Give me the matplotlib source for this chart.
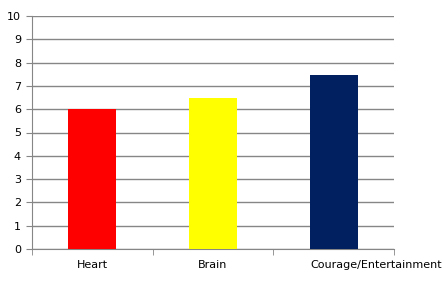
import matplotlib
matplotlib.use("Agg")
import matplotlib.pyplot as plt
from matplotlib.transforms import ScaledTranslation

# Chart data
categories = ["Heart", "Brain", "Courage/Entertainment"]
values = [6.0, 6.5, 7.45]
colors = ["#FF0000", "#FFFF00", "#002060"]

fig = plt.figure(figsize=(4.48, 2.91), dpi=100)
ax = fig.add_axes([32 / 448, 42 / 291, 362 / 448, 233 / 291])

positions = range(len(categories))
ax.bar(positions, values, width=0.4, color=colors, zorder=3)

ax.set_xlim(-0.5, len(categories) - 0.5)
ax.set_ylim(0, 10)
ax.set_yticks(range(0, 11))

# Gridlines
ax.yaxis.grid(True, color="#868686", linewidth=1)
ax.set_axisbelow(True)

for side in ["top", "right"]:
    ax.spines[side].set_visible(False)
ax.spines["left"].set_color("#868686")
ax.spines["bottom"].set_color("#868686")

# Category labels centred, tick marks at the category boundaries
ax.set_xticks(list(positions))
ax.set_xticklabels(categories)
ax.tick_params(axis="x", length=0, pad=8, labelsize=8)
ax.set_xticks([i - 0.5 for i in range(len(categories) + 1)], minor=True)
ax.tick_params(axis="x", which="minor", length=4, color="#868686", direction="out")
ax.tick_params(axis="y", length=4, color="#868686", labelsize=8, pad=4)

# the long label runs past the right edge, like the original
last = ax.get_xticklabels()[-1]
last.set_ha("left")
last.set_transform(last.get_transform() + ScaledTranslation(-0.23, 0, fig.dpi_scale_trans))

fig.savefig("out.png", dpi=100)
